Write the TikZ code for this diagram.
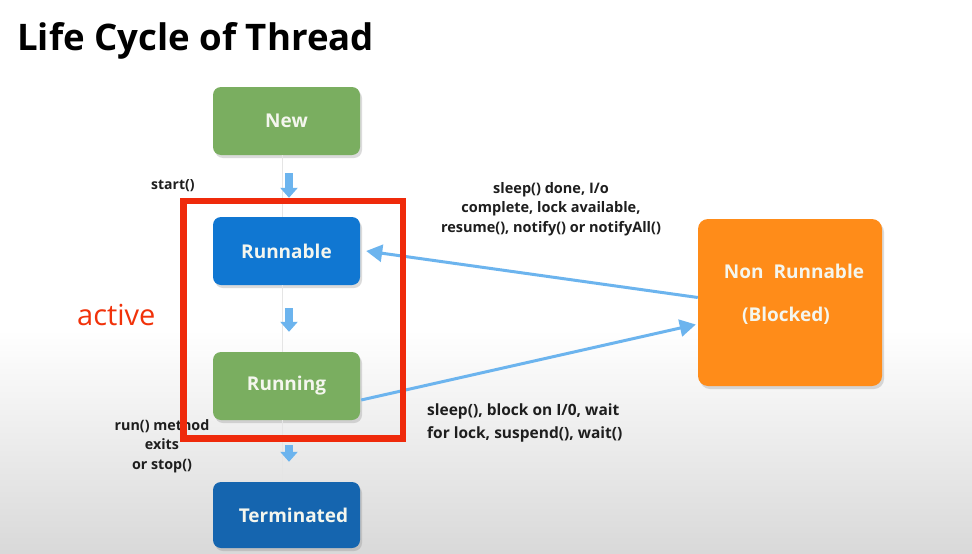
\documentclass[tikz,border=0pt]{standalone}
\usepackage{fontspec}
\setmainfont{Open Sans}
\usetikzlibrary{arrows.meta,shadows}

\definecolor{stategreen}{HTML}{7AAE60}
\definecolor{stateblue}{HTML}{1077D2}
\definecolor{enddblue}{HTML}{1565AF}
\definecolor{blockorange}{HTML}{FF8C19}
\definecolor{framered}{HTML}{EF2A0B}
\definecolor{flowblue}{HTML}{6CB4EE}
\definecolor{labelink}{HTML}{1E1E1E}
\definecolor{boxtext}{HTML}{F4F6EE}

\tikzset{
  statebox/.style={rounded corners=8pt, minimum width=147pt, minimum height=68pt,
    inner sep=0pt, text=boxtext, font=\bfseries\fontsize{19}{22}\selectfont,
    drop shadow={opacity=0.28, shadow xshift=2pt, shadow yshift=-3pt}},
  boxlabel/.style={inner sep=0pt, text=boxtext, font=\bfseries\fontsize{19}{22}\selectfont},
  stub/.style={draw=flowblue, line width=8pt,
    -{Triangle[length=10pt, width=17pt]}},
  faint/.style={draw=black!10, line width=0.6pt},
  link/.style={draw=flowblue, line width=3pt,
    -{Triangle[length=16pt, width=17pt]}},
  caption/.style={text=labelink, font=\bfseries\fontsize{14.5}{19.5}\selectfont,
    inner sep=0pt},
}

\begin{document}
\begin{tikzpicture}[x=1pt, y=-1pt]
  % page and soft grey floor
  \fill[white] (0,0) rectangle (972,554);
  \shade[top color=white, bottom color=black!15] (0,330) rectangle (972,554);
  \useasboundingbox (0,0) rectangle (972,554);

  % title
  \node[anchor=base west, inner sep=0pt, text=black,
        font=\bfseries\fontsize{36.6}{40}\selectfont] (title) at (17,50)
        {Life Cycle of Thread};

  % states
  \node[statebox, fill=stategreen] (new) at (286.5,121) {New};
  \node[statebox, fill=stateblue] (runnable) at (286.5,251) {Runnable};
  \node[statebox, fill=stategreen] (running) at (286.5,386) {Running};
  \node[statebox, fill=enddblue, minimum height=66pt] (terminated) at (286.5,515) {\hspace*{14pt}Terminated};
  \node[statebox, fill=blockorange, minimum width=184pt, minimum height=167pt,
        rounded corners=10pt] (nonrun) at (790,302.5) {};
  \node[boxlabel] (nonrunname) at (794,271) {Non\ \ Runnable};
  \node[boxlabel] (nonrunnote) at (786,316) {(Blocked)};

  % vertical transitions
  \draw[faint] ([xshift=-4pt]new.south) -- ([xshift=-4pt]runnable.north);
  \draw[faint] ([xshift=-4pt]runnable.south) -- ([xshift=-4pt]running.north);
  \draw[faint] ([xshift=-4pt]running.south) -- ([xshift=-4pt]terminated.north);
  \draw[stub, shorten <=18pt, shorten >=19pt] ([xshift=2.5pt]new.south) -- ([xshift=2.5pt]runnable.north);
  \draw[stub, shorten <=23pt, shorten >=20pt] ([xshift=2.5pt]runnable.south) -- ([xshift=2.5pt]running.north);
  \draw[stub, shorten <=25pt, shorten >=20pt] ([xshift=2.5pt]running.south) -- ([xshift=2.5pt]terminated.north);

  % transitions to and from the blocked state
  \draw[link] ([yshift=5pt]nonrun.west) -- ([xshift=6pt]runnable.east);
  \draw[link] ([xshift=1pt,yshift=-14pt]running.east) -- ([xshift=-2pt,yshift=-22pt]nonrun.west);

  % labels
  \node[caption, anchor=west, font=\bfseries\fontsize{14}{19}\selectfont] (startlbl) at (151,186) {start()};
  \node[caption, align=center] (wakelbl) at (551,209)
    {sleep() done, I/o\\complete, lock available,\\resume(), notify() or notifyAll()};
  \node[caption, anchor=north west, align=left,
        font=\bfseries\fontsize{15.5}{23}\selectfont] (blocklbl) at (427,404)
    {sleep(), block on I/0, wait\\for lock, suspend(), wait()};
  \node[caption, align=center, font=\bfseries\fontsize{14.3}{19.5}\selectfont] (exitlbl) at (162,446)
    {run() method\\exits\\or stop()};
  \node[anchor=west, inner sep=0pt, text=framered!90!orange,
        font=\fontsize{29}{32}\selectfont] (active) at (77,315) {active};

  % frame around the active states
  \draw[framered, line width=6.5pt] (183.5,201) rectangle (403,438.5);
\end{tikzpicture}
\end{document}
